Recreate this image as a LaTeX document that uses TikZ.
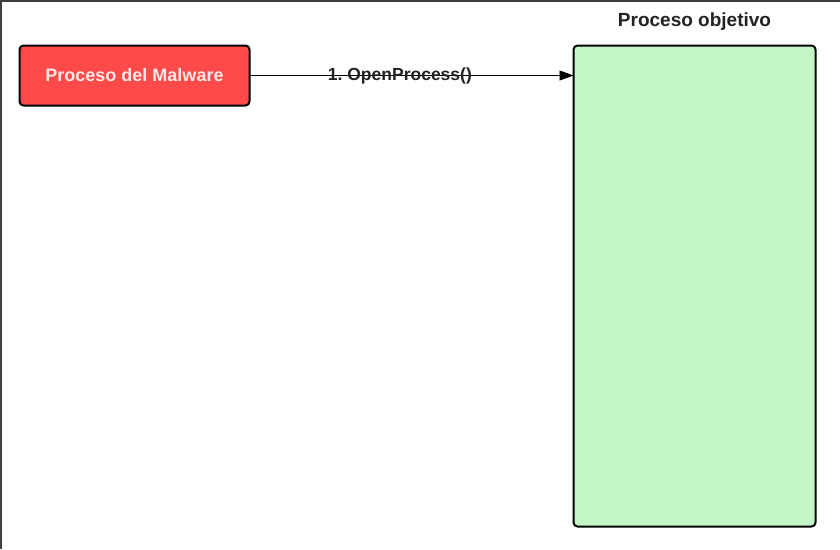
\documentclass[tikz,border=0pt]{standalone}
\usepackage{fontspec}
\setmainfont{Liberation Sans}
\usetikzlibrary{arrows.meta,positioning}

\definecolor{malred}{RGB}{255,74,74}
\definecolor{maltext}{RGB}{255,232,232}
\definecolor{objgreen}{RGB}{195,247,200}
\definecolor{framegray}{RGB}{64,64,64}
\definecolor{titlegray}{RGB}{34,34,34}

\begin{document}
\begin{tikzpicture}[x=1pt, y=-1pt]
\tikzset{ >={Triangle[length=14pt,width=10pt]}, inner sep=0pt, outer sep=0pt,
  procbox/.style={draw=black, line width=2pt, rounded corners=4pt},
}

\useasboundingbox (0,0) rectangle (840,549);
\draw [framegray, line width=1.5pt] (0.75,549) -- (0.75,0.75) -- (840,0.75);

\node [procbox, fill=malred, minimum width=230pt, minimum height=60pt,
       text=maltext, font=\bfseries\fontsize{18}{20}\selectfont] (M) at (134.5,75.5) {Proceso del Malware};
\node [procbox, fill=objgreen, minimum width=242pt, minimum height=481pt] (O) at (694.5,286) {};

\node [above=15pt of O, text=titlegray, font=\bfseries\fontsize{19}{21}\selectfont] (OT) {Proceso objetivo};

\draw [->, line width=0.8pt] (M.east) -- (O.west |- M.east)
  node [pos=0.464, text=titlegray, font=\bfseries\fontsize{17.5}{20}\selectfont] (L) {1.\kern-1.5pt{} OpenProcess()};

\end{tikzpicture}
\end{document}
